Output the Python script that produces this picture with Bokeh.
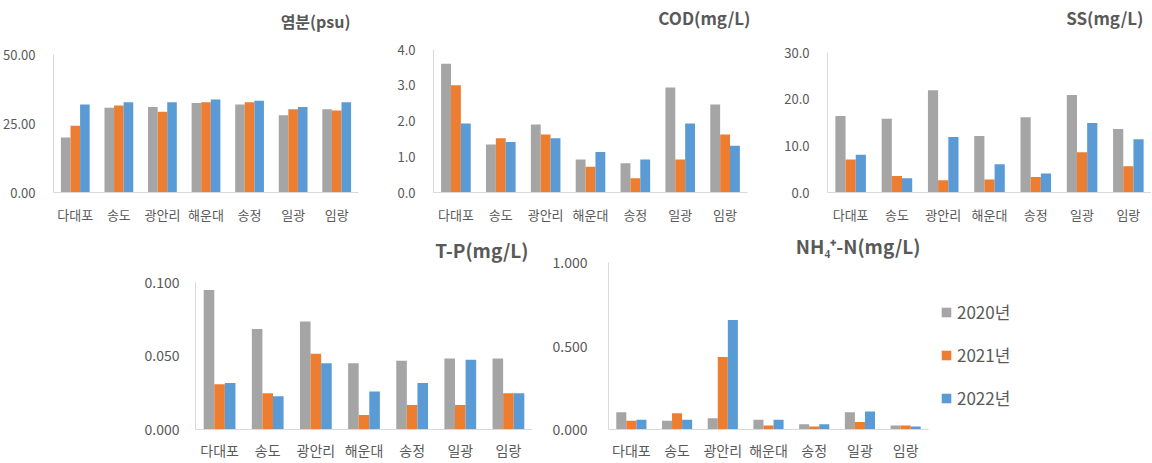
from bokeh.plotting import figure
from bokeh.models import (ColumnDataSource, FactorRange, Range1d, FixedTicker, PrintfTickFormatter,
                          Legend, LegendItem, Spacer, Title)
from bokeh.layouts import column, row
from bokeh.transform import dodge
from bokeh.embed import file_html
from bokeh.resources import INLINE

sites = ["다대포", "송도", "광안리", "해운대", "송정", "일광", "임랑"]
years = ["2020년", "2021년", "2022년"]
colors = ["#A5A5A5", "#ED7D31", "#5B9BD5"]

sal_2020 = [19.9, 30.7, 31.0, 32.4, 31.9, 28.0, 30.2]
sal_2021 = [24.2, 31.5, 29.3, 32.7, 32.7, 30.2, 29.7]
sal_2022 = [31.9, 32.7, 32.7, 33.7, 33.2, 31.0, 32.7]

cod_2020 = [3.60, 1.34, 1.90, 0.92, 0.82, 2.94, 2.46]
cod_2021 = [3.00, 1.52, 1.62, 0.72, 0.40, 0.92, 1.62]
cod_2022 = [1.93, 1.41, 1.52, 1.13, 0.92, 1.93, 1.31]

ss_2020 = [16.4, 15.8, 21.9, 12.1, 16.1, 20.9, 13.6]
ss_2021 = [7.05, 3.56, 2.6, 2.8, 3.3, 8.6, 5.6]
ss_2022 = [8.1, 3.07, 11.9, 6.07, 4.05, 14.9, 11.4]

tp_2020 = [0.0948, 0.0683, 0.0733, 0.0450, 0.0467, 0.0483, 0.0483]
tp_2021 = [0.0308, 0.0247, 0.0515, 0.0099, 0.0166, 0.0166, 0.0247]
tp_2022 = [0.0315, 0.0225, 0.0450, 0.0258, 0.0315, 0.0474, 0.0247]

nh4_2020 = [0.103, 0.053, 0.067, 0.059, 0.032, 0.103, 0.024]
nh4_2021 = [0.053, 0.097, 0.434, 0.024, 0.018, 0.045, 0.024]
nh4_2022 = [0.059, 0.059, 0.655, 0.059, 0.032, 0.108, 0.018]

FONT = "Noto Sans CJK KR"
TXT = "#595959"
AX = "#D9D9D9"


def panel(title, series, ymax, yend, ticks, fmt, width, height, left, right, top, bottom,
          toff, tgap, tstand, tsize, ysize, ystand, xsize, xstand):
    src = ColumnDataSource(dict(site=sites, a=series[0], b=series[1], c=series[2]))
    p = figure(x_range=FactorRange(*sites), y_range=Range1d(0, yend),
               width=width, height=height, min_border_left=left, min_border_right=right,
               min_border_top=top, min_border_bottom=bottom,
               output_backend="svg", toolbar_location=None)
    rs = []
    for key, off, col in zip(["a", "b", "c"], [-0.22, 0.0, 0.22], colors):
        r = p.vbar(x=dodge("site", off, range=p.x_range), top=key, width=0.22,
                   source=src, fill_color=col, line_color=None)
        rs.append(r)
    if tgap > 0:
        p.add_layout(Title(text=" ", text_font_size="1px", standoff=tgap), "above")
    t = Title(text=title, align="right", text_font=FONT, text_font_size=tsize,
              text_font_style="bold", text_color=TXT, offset=toff, standoff=tstand)
    p.add_layout(t, "above")
    p.xgrid.visible = False
    p.ygrid.visible = False
    p.outline_line_color = None
    p.x_range.range_padding = 0
    ya = p.yaxis[0]
    ya.ticker = FixedTicker(ticks=ticks)
    ya.bounds = (0, ymax)
    ya.formatter = PrintfTickFormatter(format=fmt)
    ya.major_tick_line_color = None
    ya.minor_tick_line_color = None
    ya.axis_line_color = AX
    ya.major_label_text_color = TXT
    ya.major_label_text_font = FONT
    ya.major_label_text_font_size = ysize
    ya.major_label_standoff = ystand
    xa = p.xaxis[0]
    xa.major_tick_line_color = None
    xa.axis_line_color = AX
    xa.major_label_text_color = TXT
    xa.major_label_text_font = FONT
    xa.major_label_text_font_size = xsize
    xa.major_label_standoff = xstand
    return p, rs


# row 1: common frame top 49, bottom 192 (height 143)
p1, _ = panel("염분(psu)", [sal_2020, sal_2021, sal_2022], 50, 50 * 143 / 138, [0, 25, 50], "%.2f",
              385, 226, 52, 27, 49, 34, 8, 14, 0, "16px", "13px", 12, "13px", 6)
p2, _ = panel("COD(mg/L)", [cod_2020, cod_2021, cod_2022], 4, 4, [0, 1, 2, 3, 4], "%.1f",
              390, 226, 48, 28, 49, 34, -3, 17, 0, "17px", "13px", 12, "13px", 6)
p3, _ = panel("SS(mg/L)", [ss_2020, ss_2021, ss_2022], 30, 30 * 143 / 140, [0, 10, 20, 30], "%.1f",
              376, 226, 52, 0, 49, 34, 8, 17, 0, "17px", "13px", 12, "13px", 6)
# row 2: common frame top 262, bottom 431 (height 169)
p4, _ = panel("T-P(mg/L)", [tp_2020, tp_2021, tp_2022], 0.1, 0.1 * 169 / 149, [0, 0.05, 0.1], "%.3f",
              405, 236, 55, 13, 36, 31, 4, 0, 0, "19px", "14px", 10, "14px", 4)
p5, rs5 = panel("NH\u2084\u207a-N(mg/L)", [nh4_2020, nh4_2021, nh4_2022], 1.0, 1.0, [0, 0.5, 1.0], "%.3f",
                395, 236, 63, 12, 36, 31, 8, 1, 0, "19px", "14px", 15, "14px", 4)

# legend panel
pl = figure(x_range=Range1d(10, 11), y_range=Range1d(10, 11), width=211, height=236,
            min_border_left=0, min_border_right=0, min_border_top=36, min_border_bottom=31,
            x_axis_location=None, y_axis_location=None,
            output_backend="svg", toolbar_location=None)
pl.xgrid.visible = False
pl.ygrid.visible = False
pl.grid.grid_line_color = None
pl.outline_line_color = None
lrs = [pl.vbar(x=[10.5], top=[10], bottom=[10], width=0.0, fill_color=c, line_color=None) for c in colors]
legend = Legend(items=[LegendItem(label=y, renderers=[r]) for y, r in zip(years, lrs)],
                location=(0, 19), orientation="vertical")
legend.border_line_color = None
legend.background_fill_alpha = 0
legend.padding = 0
legend.margin = 0
legend.spacing = 18
legend.glyph_width = 12
legend.glyph_height = 12
legend.label_height = 17
legend.label_standoff = 5
legend.label_text_font = FONT
legend.label_text_font_size = "17px"
legend.label_text_color = TXT
pl.add_layout(legend, "center")

layout = column(row(p1, p2, p3), row(Spacer(width=140, height=236), p4, p5, pl))

open("out.html", "w").write(file_html(layout, INLINE))
